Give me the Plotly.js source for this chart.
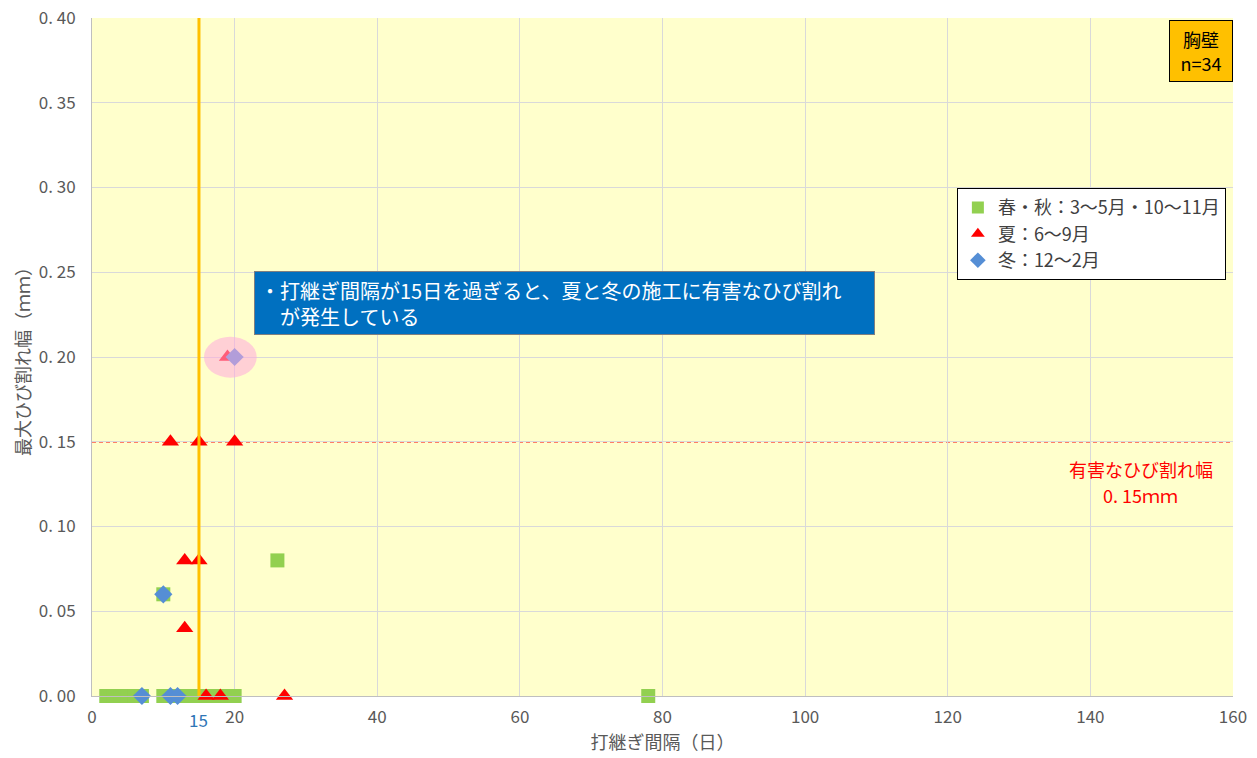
<!DOCTYPE html>
<html>
<head>
<meta charset="utf-8">
<script src="https://cdn.plot.ly/plotly-3.0.1.min.js"></script>
<style>
  html, body { margin: 0; padding: 0; background: #ffffff; }
  #chart { width: 1257px; height: 758px; }
</style>
</head>
<body>
<div id="chart"></div>
<script>
// 打継ぎ間隔（日）と最大ひび割れ幅（mm）— 胸壁
const springAutumnX = [2, 3, 4, 5, 6, 7, 10, 11, 13, 14, 15, 16, 17, 18, 19, 20, 10, 26, 78];
const springAutumnY = [0, 0, 0, 0, 0, 0, 0, 0, 0, 0, 0, 0, 0, 0, 0, 0, 0.06, 0.08, 0];

const summerX = [16, 18, 27, 11, 15, 20, 13, 15, 13, 19];
const summerY = [0, 0, 0, 0.15, 0.15, 0.15, 0.08, 0.08, 0.04, 0.20];

const winterX = [7, 11, 12, 10, 20];
const winterY = [0, 0, 0, 0.06, 0.20];

const yTickVals = [0, 0.05, 0.10, 0.15, 0.20, 0.25, 0.30, 0.35, 0.40];
const yTickText = ['0. 00', '0. 05', '0. 10', '0. 15', '0. 20', '0. 25', '0. 30', '0. 35', '0. 40'];
const xTickVals = [0, 20, 40, 60, 80, 100, 120, 140, 160];

const harmfulWidth = 0.15;   // 有害なひび割れ幅
const intervalLimit = 15;    // 打継ぎ間隔の境界（日）

const FONT = '"Noto Sans CJK JP", "Noto Sans", sans-serif';

const traces = [
  {
    type: 'scatter', mode: 'markers', name: '春・秋：3～5月・10～11月',
    x: springAutumnX, y: springAutumnY, cliponaxis: false,
    marker: { symbol: 'square', size: 14, color: '#92D050' }
  },
  {
    type: 'scatter', mode: 'markers', name: '夏：6～9月',
    x: summerX, y: summerY, cliponaxis: false,
    marker: { symbol: 'triangle-up', size: 15, color: '#FF0000' }
  },
  {
    type: 'scatter', mode: 'markers', name: '冬：12～2月',
    x: winterX, y: winterY, cliponaxis: false,
    marker: { symbol: 'diamond', size: 14, color: '#558ED5' }
  }
];

const layout = {
  width: 1257, height: 758,
  margin: { l: 92, r: 24, t: 18, b: 62 },
  paper_bgcolor: '#ffffff',
  plot_bgcolor: '#FFFFCC',
  font: { family: FONT, color: '#595959', size: 15 },
  showlegend: true,
  legend: {
    x: 0.758, y: 0.749, xanchor: 'left', yanchor: 'top',
    bgcolor: '#ffffff', bordercolor: '#000000', borderwidth: 1,
    font: { family: FONT, size: 18, color: '#404040' },
    itemsizing: 'constant', itemwidth: 30, tracegroupgap: 0
  },
  xaxis: {
    range: [0, 160], tickvals: xTickVals,
    showgrid: true, gridcolor: '#D9D9D9', gridwidth: 1,
    zeroline: false, showline: true, linecolor: '#BFBFBF', linewidth: 1,
    ticks: '', ticklabelstandoff: 6, tickfont: { size: 17, color: '#595959' },
    title: { text: '打継ぎ間隔（日）', font: { size: 18, color: '#595959' }, standoff: 6 }
  },
  yaxis: {
    range: [0, 0.40], tickvals: yTickVals, ticktext: yTickText,
    showgrid: true, gridcolor: '#D9D9D9', gridwidth: 1,
    zeroline: false, showline: true, linecolor: '#BFBFBF', linewidth: 1,
    ticks: '', ticklabelstandoff: 12, tickfont: { size: 17, color: '#595959' },
    title: { text: '最大ひび割れ幅（ｍｍ）', font: { size: 18, color: '#595959' }, standoff: 3 }
  },
  shapes: [
    // 有害なひび割れ幅の基準線
    {
      type: 'line', xref: 'x', yref: 'y', layer: 'below',
      x0: 0, x1: 160, y0: harmfulWidth, y1: harmfulWidth,
      line: { color: '#FF0000', width: 1.5, dash: '4px,3px' }
    },
    // 打継ぎ間隔15日の境界線
    {
      type: 'line', xref: 'x', yref: 'y', layer: 'above',
      x0: intervalLimit, x1: intervalLimit, y0: 0, y1: 0.40,
      line: { color: '#FFC000', width: 3 }
    },
    // 0.20mm の点を囲む強調
    {
      type: 'circle', xref: 'x', yref: 'y', layer: 'above',
      x0: 15.7, x1: 23.1, y0: 0.1878, y1: 0.2120,
      fillcolor: 'rgba(255, 170, 220, 0.55)', line: { width: 0 }
    }
  ],
  annotations: [
    {
      xref: 'paper', yref: 'paper', x: 0.142, y: 0.627,
      xanchor: 'left', yanchor: 'top', showarrow: false, align: 'left',
      text: '・打継ぎ間隔が15日を過ぎると、夏と冬の施工に有害なひび割れ<br>　が発生している',
      font: { family: FONT, size: 20, color: '#ffffff' },
      bgcolor: '#0070C0', bordercolor: '#7F7F7F', borderwidth: 1, borderpad: 5,
      width: 609, height: 52
    },
    {
      xref: 'paper', yref: 'paper', x: 1.0, y: 0.997,
      xanchor: 'right', yanchor: 'top', showarrow: false,
      text: '胸壁<br>n=34',
      font: { family: FONT, size: 18, color: '#000000' },
      bgcolor: '#FFC000', bordercolor: '#000000', borderwidth: 1, borderpad: 4,
      width: 54, height: 52
    },
    {
      xref: 'paper', yref: 'paper', x: 0.919, y: 0.335,
      xanchor: 'center', yanchor: 'middle', showarrow: false,
      text: '有害なひび割れ幅',
      font: { family: FONT, size: 18, color: '#FF0000' }
    },
    {
      xref: 'paper', yref: 'paper', x: 0.919, y: 0.296,
      xanchor: 'center', yanchor: 'middle', showarrow: false,
      text: '0. 15ｍｍ',
      font: { family: FONT, size: 18, color: '#FF0000' }
    },
    {
      xref: 'x', yref: 'paper', x: intervalLimit, y: 0,
      xanchor: 'center', yanchor: 'top', yshift: -9, showarrow: false,
      text: '15',
      font: { family: FONT, size: 17, color: '#2E75B6' }
    }
  ]
};

Plotly.newPlot('chart', traces, layout, { displayModeBar: false, staticPlot: true });
</script>
</body>
</html>
